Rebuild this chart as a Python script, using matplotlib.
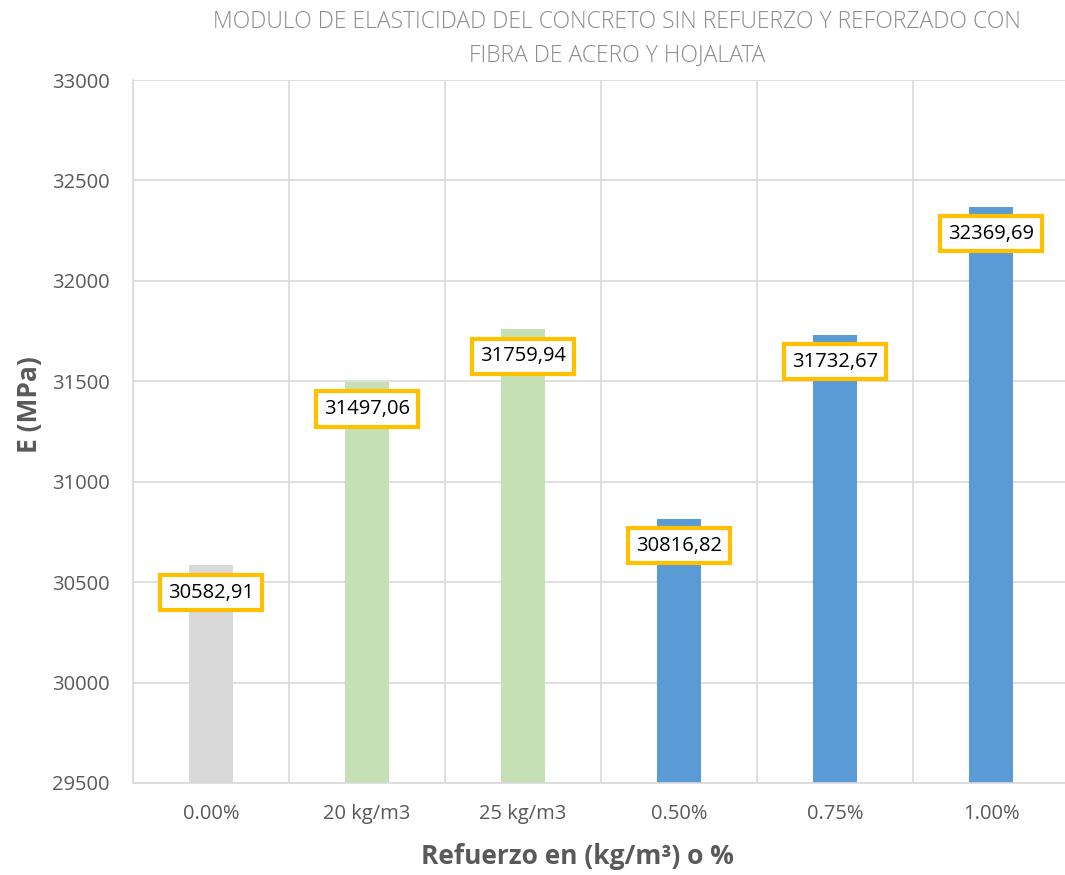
import numpy as np
import matplotlib
matplotlib.use("Agg")
import matplotlib.pyplot as plt

categories = ["0.00%", "20 kg/m3", "25 kg/m3", "0.50%", "0.75%", "1.00%"]
modulus = [30582.91, 31497.06, 31759.94, 30816.82, 31732.67, 32369.69]
bar_colors = ["#D9D9D9", "#C5E0B4", "#C5E0B4", "#5B9BD5", "#5B9BD5", "#5B9BD5"]
yticks = [29500, 30000, 30500, 31000, 31500, 32000, 32500, 33000]

plt.rcParams["font.family"] = ["Open Sans", "DejaVu Sans"]

W, H = 1065, 875
fig = plt.figure(figsize=(W / 100, H / 100), dpi=100)
# plot area in pixels: x 133..1069, y 80..783
ax = fig.add_axes([133 / W, (H - 783) / H, 936 / W, 703 / H])

x = np.arange(len(categories))
ax.bar(x, modulus, width=0.276, color=bar_colors, zorder=2)

ax.set_xlim(-0.5, len(categories) - 0.5)
ax.set_ylim(29500, 33000)
ax.set_yticks(yticks)
ax.set_yticklabels([str(t) for t in yticks])
ax.set_xticks(x)
ax.set_xticklabels(categories)
ax.set_xticks(np.arange(len(categories) + 1) - 0.5, minor=True)

grid_c = "#D9D9D9"
ax.grid(axis="y", color=grid_c, lw=1.2, zorder=0)
ax.grid(axis="x", which="minor", color=grid_c, lw=1.2, zorder=0)
ax.tick_params(axis="both", which="both", length=0, labelsize=14.5, colors="#595959")
ax.tick_params(axis="y", pad=17)
ax.tick_params(axis="x", pad=15)
for s in ["top", "right"]:
    ax.spines[s].set_visible(False)
for s in ["left", "bottom"]:
    ax.spines[s].set_color(grid_c)
    ax.spines[s].set_linewidth(1.2)

for xi, v in zip(x, modulus):
    ax.annotate(f"{v:.2f}".replace(".", ","), (xi, v), xytext=(0, -19.5),
                textcoords="offset points", ha="center", va="center",
                fontsize=14.5, color="black", zorder=4,
                bbox=dict(boxstyle="square,pad=0.38", fc="white",
                          ec="#FFC000", lw=3))

fig.text(617 / W, 1 - 22 / H, "MODULO DE ELASTICIDAD DEL CONCRETO SIN REFUERZO Y REFORZADO CON",
         ha="center", va="center", fontsize=16.5, color="#8C8C8C", fontweight="light")
fig.text(617 / W, 1 - 56 / H, "FIBRA DE ACERO Y HOJALATA",
         ha="center", va="center", fontsize=16.5, color="#8C8C8C", fontweight="light")

fig.text(30 / W, 1 - 405 / H, "E (MPa)", rotation=90, ha="center", va="center",
         fontsize=19, fontweight="bold", color="#595959")
fig.text(577 / W, 1 - 857 / H, "Refuerzo en (kg/m³) o %", ha="center", va="center",
         fontsize=19, fontweight="bold", color="#595959")

fig.savefig("out.png", dpi=100)
